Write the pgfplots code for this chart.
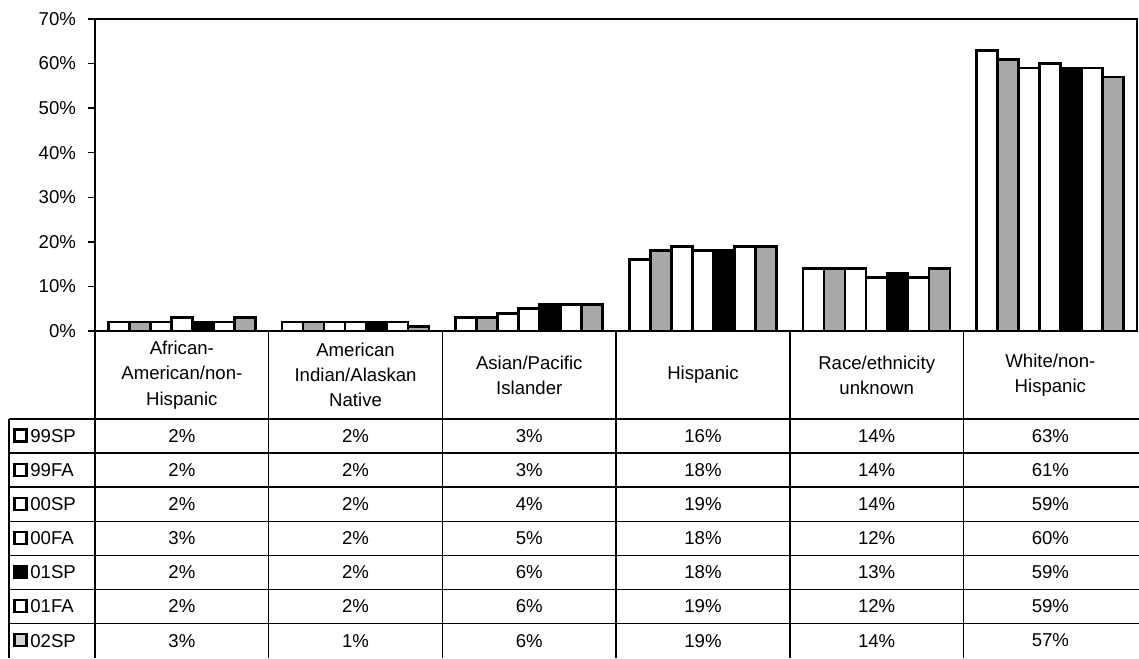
\documentclass[border=0pt]{standalone}
\usepackage{pgfplots}
\pgfplotsset{compat=1.18}
\usepackage{pgfplotstable}
\usepackage{fontspec}
\setmainfont{Liberation Sans}

\definecolor{speck}{gray}{0.66}

% one row per category, one column per term
\pgfplotstableread{
x s1 s2 s3 s4 s5 s6 s7
0 2 2 2 3 2 2 3
1 2 2 2 2 2 2 1
2 3 3 4 5 6 6 6
3 16 18 19 18 18 19 19
4 14 14 14 12 13 12 14
5 63 61 59 60 59 59 57
}\ethn

\begin{document}
\begin{tikzpicture}[font=\fontsize{9.3pt}{12.6pt}\selectfont]
\path[use as bounding box] (0,0) rectangle (569.5pt,-329pt);
\begin{axis}[
    at={(47.5pt,-165.5pt)}, anchor=south west,
    scale only axis, width=521pt, height=156pt,
    xmin=-0.5, xmax=5.5, ymin=0, ymax=70,
    ybar=0pt, bar width=0.121,
    xtick=\empty,
    ytick={0,10,...,70}, ytick pos=left,
    yticklabel={\pgfmathprintnumber{\tick}\%},
    tick align=outside, major tick length=3.5pt,
    /pgf/number format/assume math mode=true,
    y tick label style={xshift=-2.5pt},
    tick style={black, line width=0.7pt},
    axis line style={black, line width=0.8pt},
    every axis plot/.append style={draw=black, line width=1.4pt},
]
\addplot[fill=white] table[x=x,y=s1] {\ethn};
\addplot[fill=speck] table[x=x,y=s2] {\ethn};
\addplot[fill=white] table[x=x,y=s3] {\ethn};
\addplot[fill=white] table[x=x,y=s4] {\ethn};
\addplot[fill=black] table[x=x,y=s5] {\ethn};
\addplot[fill=white] table[x=x,y=s6] {\ethn};
\addplot[fill=speck] table[x=x,y=s7] {\ethn};
\end{axis}

% data table below the chart, in pixel units
\begin{scope}[x=0.5pt,y=-0.5pt]
  \draw[line width=0.75pt] (9,419) -- (1139,419);
  \foreach \k in {1,...,6}
    \draw[line width=0.75pt] (9,419+34.1*\k) -- (1139,419+34.1*\k);
  \draw[line width=0.75pt] (9,419) -- (9,658);
  \foreach \k in {0,...,5}
    \draw[line width=0.75pt] (95+173.7*\k,331) -- (95+173.7*\k,658);

  \foreach \lab [count=\j from 0] in {
      {African-\\American/non-\\Hispanic},
      {American\\Indian/Alaskan\\Native},
      {Asian/Pacific\\Islander},
      {Hispanic},
      {Race/ethnicity\\unknown},
      {White/non-\\Hispanic}}
    \node[align=center] at (95+173.7*\j+86.85,375) {\lab};

  \foreach \nm/\fc [count=\i from 0] in {99SP/white,99FA/white,00SP/white,00FA/white,01SP/black,01FA/white,02SP/gray!35} {
    \draw[line width=1.1pt, fill=\fc] (14.5,419+34.1*\i+10.5) rectangle (26.5,419+34.1*\i+22.5);
    \node[anchor=west, inner sep=0pt] at (30,419+34.1*\i+17) {\nm};
    \foreach \j in {0,...,5} {
      \pgfplotstablegetelem{\j}{s\the\numexpr\i+1\relax}\of\ethn
      \node at (95+173.7*\j+86.85,419+34.1*\i+17) {\pgfplotsretval\%};
    }
  }
\end{scope}
\end{tikzpicture}
\end{document}
